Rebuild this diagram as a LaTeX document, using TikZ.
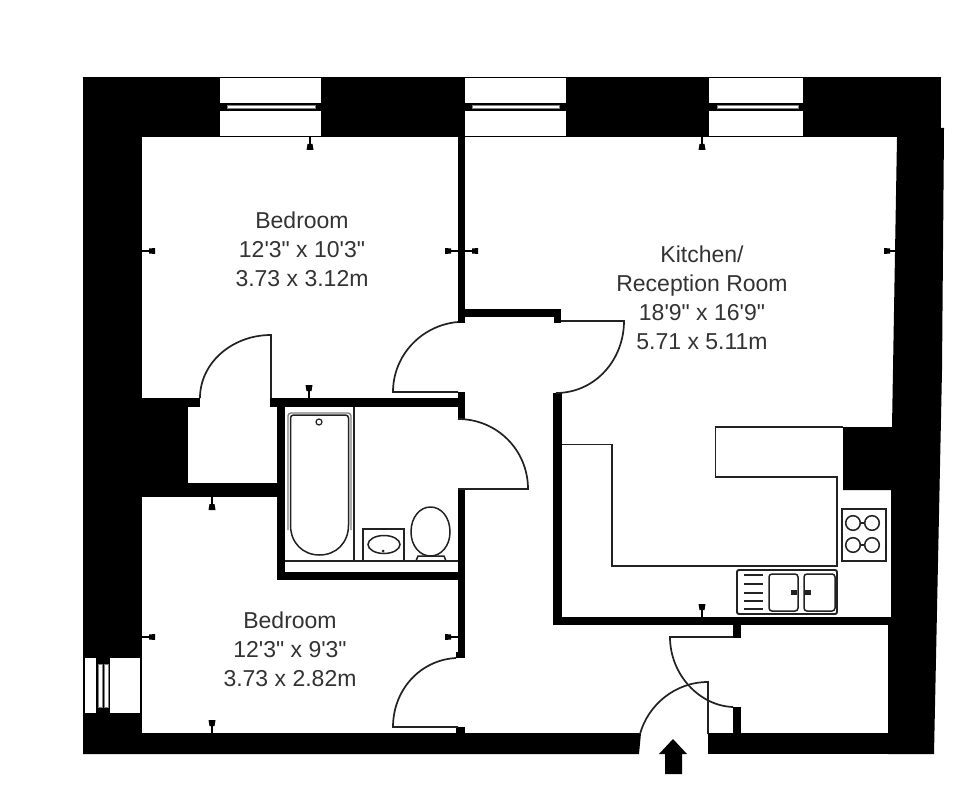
\documentclass[tikz,border=0pt]{standalone}
\usepackage{fontspec}
\newfontfamily\lab{Liberation Sans}
\definecolor{ink}{HTML}{222222}
\definecolor{txt}{HTML}{333333}
\tikzset{
  wall/.style={fill=black,draw=none},
  gap/.style={fill=white,draw=none},
  fine/.style={draw=ink,line width=1.5pt,line join=miter},
  worktop/.style={draw=ink,line width=1.9pt,line join=miter},
  doorline/.style={draw=ink,line width=1.7pt,line join=miter},
  room/.style={text=txt,align=center,font=\lab\fontsize{23}{29}\selectfont,inner sep=0pt},
  slit/.style={fill=white,draw=gray,line width=1pt},
}
\newcommand{\tickh}[3]{% wall x, y, direction
  \draw[black,line width=1.4pt] (#1,#2) -- ++(#3*13,0);
  \fill[black] (#1+#3*7,#2-2.5) -- (#1+#3*13,#2-3) -- (#1+#3*13,#2+3) -- (#1+#3*7,#2+2.5) -- cycle;}
\newcommand{\tickv}[3]{% x, wall y, direction
  \draw[black,line width=1.4pt] (#1,#2) -- ++(0,#3*13);
  \fill[black] (#1-2.5,#2+#3*7) -- (#1-3.5,#2+#3*13) -- (#1+3.5,#2+#3*13) -- (#1+2.5,#2+#3*7) -- cycle;}
\begin{document}
\begin{tikzpicture}[x=1pt,y=-1pt]
\useasboundingbox (0,0) rectangle (980,805);
\fill[white] (0,0) rectangle (980,805);
% outer walls
\path[wall] (83,77) rectangle (941,137);
\path[wall] (83,77) rectangle (142,754);
\path[wall] (83,733) -- (641,733) -- (639,754) -- (83,754) -- cycle;
\path[wall] (708,733) rectangle (934,754);
\path[wall] (897,137) -- (941,128) -- (944,128) -- (942,370) -- (934,754) -- (888,754) -- (888,625) -- (891,617) -- (891,490) -- (843,490) -- (843,427) -- (892,427) -- cycle;
\path[wall] (880,120) rectangle (941,137);
% interior walls
\path[wall] (142,398) rectangle (188,497);
\path[wall] (142,398) rectangle (200,407);
\path[wall] (142,483) rectangle (277,497);
\path[wall] (270,398) rectangle (465,407);
\path[wall] (277,398) rectangle (285,580);
\path[wall] (277,572) rectangle (465,580);
\path[wall] (458,488) rectangle (465,658);
\path[wall] (456,652) rectangle (465,658);
\path[wall] (458,392) rectangle (465,420);
\path[wall] (458,137) rectangle (465,323);
\path[wall] (465,309) rectangle (561,317);
\path[wall] (554,309) rectangle (561,323);
\path[wall] (553,393) rectangle (562,625);
\path[wall] (553,617) rectangle (892,625);
\path[wall] (733,625) rectangle (741,638);
\path[wall] (733,707) rectangle (741,733);
\path[wall] (456,727) rectangle (465,733);
% windows, top
\foreach \a/\b/\c/\d in {220/321/227/315,465/566/472/559,709/803/717/798}{
  \path[gap] (\a,78) rectangle (\b,103);
  \path[gap] (\a,111) rectangle (\b,136);
  \path[slit] (\c,105.5) rectangle (\d,108.5);
}
% window, left
\path[gap] (85,658) rectangle (96,713);
\path[gap] (110,658) rectangle (140,713);
\fill[black] (96,658) rectangle (110,713);
\path[slit] (98,664) rectangle (102,707);
\path[slit] (104.5,664) rectangle (108.5,707);
% doors
\draw[doorline] (271,398) -- (271,335) .. controls (232,335) and (200,363) .. (200,398);
\draw[doorline] (458,322) .. controls (422,325) and (393,355) .. (393,392) -- (458,392);
\draw[doorline] (561,321) -- (624,321) .. controls (624,360) and (595,393) .. (556,393);
\draw[doorline] (458,419) .. controls (497,419) and (528,450) .. (528,489) -- (458,489);
\draw[doorline] (456,658) .. controls (420,660) and (393,690) .. (393,727) -- (458,727);
\draw[doorline] (733,637) -- (670,637) .. controls (670,675) and (700,706) .. (733,707);
\draw[doorline] (640,734) .. controls (648,705) and (675,682) .. (708,682) -- (708,734);
% entrance arrow
\fill[black] (673,739) -- (687,754) -- (682,754) -- (682,774) -- (665,774) -- (665,754) -- (659,754) -- cycle;
% bathroom
\draw[fine] (285,561) -- (458,561);
\draw[fine] (354,407) -- (354,561);
\draw[draw=gray,line width=1.4pt,rounded corners=3pt] (288,530) -- (288,413) -- (351,413) -- (351,530);
\draw[fine,rounded corners=3pt] (290.5,525) -- (290.5,415) -- (348.5,415) -- (348.5,525);
\draw[fine] (290.5,525) .. controls (290.5,543) and (303,555) .. (319.5,555) .. controls (336,555) and (348.5,543) .. (348.5,525);
\draw[fine,line width=1.2pt] (319,422) circle (3);
\draw[fine] (363,561) -- (363,529) -- (404,529) -- (404,561);
\draw[fine] (384,544.5) ellipse (16 and 9);
\fill[ink] (383,551) circle (1.5);
\draw[fine] (430.5,507) .. controls (420,507) and (411,517) .. (411,532) .. controls (411,546) and (420,556) .. (430.5,556) .. controls (441,556) and (450,546) .. (450,532) .. controls (450,517) and (441,507) .. (430.5,507);
\draw[fine] (416,561) -- (418,556) -- (444,556) -- (446,561);
% kitchen worktop
\draw[worktop] (562,444.5) -- (612,444.5) -- (612,566) -- (837,566) -- (837,477) -- (715.5,477) -- (715.5,427) -- (843,427);
% hob
\draw[draw=ink,line width=1.9pt] (842,509) rectangle (886,561);
\foreach \x/\y in {853/523,872/523,853/545,872/545}{\draw[fine] (\x,\y) circle (7.3);}
\draw[fine] (860,523) -- (865,523);
\draw[fine] (860,545) -- (865,545);
% sink
\draw[draw=ink,line width=1.9pt,rounded corners=2pt] (737,570) rectangle (837,614);
\foreach \y in {575,584,593,601,609}{\draw[fine] (744,\y) -- (763,\y);}
\draw[fine,rounded corners=3pt] (769,574) rectangle (798,611);
\draw[fine,rounded corners=3pt] (804,574) rectangle (835,611);
\fill[ink] (791,590) rectangle (797,595);
\fill[ink] (805,590) rectangle (811,595);
% dimension ticks
\tickv{310}{137}{1}
\tickh{142}{251}{1}
\tickh{458}{251}{-1}
\tickh{465}{251}{1}
\tickh{897}{251}{-1}
\tickv{702}{137}{1}
\tickv{309}{398}{-1}
\tickv{212}{497}{1}
\tickh{142}{637}{1}
\tickh{458}{637}{-1}
\tickv{212}{733}{-1}
\tickv{702}{617}{-1}
% labels
\node[room] (bedroomA) at (302,249) {Bedroom\\12'3" x 10'3"\\3.73 x 3.12m};
\node[room] (bedroomB) at (290,649) {Bedroom\\12'3" x 9'3"\\3.73 x 2.82m};
\node[room] (kitchen) at (702,298) {Kitchen/\\Reception Room\\18'9" x 16'9"\\5.71 x 5.11m};
\end{tikzpicture}
\end{document}
